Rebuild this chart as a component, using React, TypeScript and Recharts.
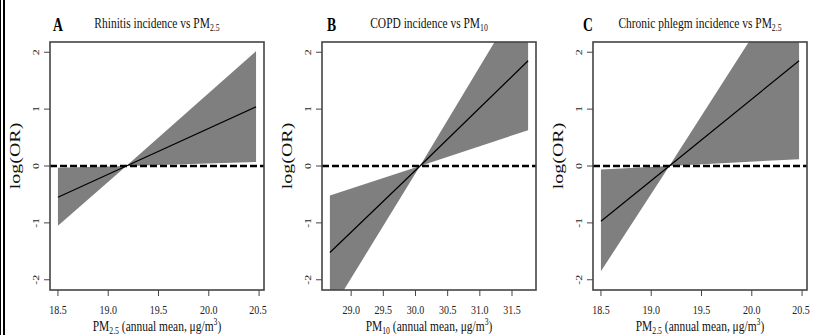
import React from 'react';
import { ComposedChart, Area, Line, XAxis, YAxis, ReferenceLine } from 'recharts';

// log(OR) curves with their confidence bands
const rhinitisX = [18.5, 19.18, 20.47];
const rhinitisFit = [-0.55, 0, 1.04];
const rhinitisLower = [-1.05, 0, 0.07];
const rhinitisUpper = [-0.03, 0, 2.02];

const copdX = [28.67, 30.07, 31.75];
const copdFit = [-1.52, 0, 1.85];
const copdLower = [-2.58, 0, 0.63];
const copdUpper = [-0.52, 0, 3.16];

const phlegmX = [18.5, 19.18, 20.47];
const phlegmFit = [-0.97, 0, 1.85];
const phlegmLower = [-1.85, 0, 0.12];
const phlegmUpper = [-0.06, 0, 3.56];

const pm25Ticks = [18.5, 19.0, 19.5, 20.0, 20.5];
const pm10Ticks = [29.0, 29.5, 30.0, 30.5, 31.0, 31.5];
const logOrTicks = [-2, -1, 0, 1, 2];

const SERIF = '"Liberation Serif", "DejaVu Serif", serif';
const SQUEEZE = 0.74;
const Y_DOMAIN: [number, number] = [-2.18, 2.18];
const PANEL_W = 272;
const PANEL_H = 335;
const MARGIN = { top: 42, right: 8, bottom: 25, left: 30 };
const Y_AXIS_W = 20;
const X_AXIS_H = 20;

const build = (xs: number[], fit: number[], lo: number[], hi: number[]) =>
  xs.map((x, i) => ({ x, fit: fit[i], band: [lo[i], hi[i]] }));

const XTick = ({ x, y, payload }: any) => (
  <text
    transform={`translate(${x},${y + 16}) scale(${SQUEEZE},1)`}
    textAnchor="middle"
    fontFamily={SERIF}
    fontSize={13.5}
    fill="#222"
  >
    {Number(payload.value).toFixed(1)}
  </text>
);

const YTick = ({ x, y, payload }: any) => (
  <text
    transform={`translate(${x - 5},${y}) rotate(-90) scale(1,${SQUEEZE})`}
    textAnchor="middle"
    fontFamily={SERIF}
    fontSize={12}
    fill="#222"
  >
    {payload.value}
  </text>
);

interface PanelProps {
  left: number;
  letter: string;
  letterX: number;
  title: string;
  titleSub: string;
  xLabel: string;
  xSub: string;
  data: any[];
  domain: [number, number];
  ticks: number[];
}

const Panel = ({ left, letter, letterX, title, titleSub, xLabel, xSub, data, domain, ticks }: PanelProps) => {
  // plot frame (R's box())
  const boxX = MARGIN.left + Y_AXIS_W;
  const boxW = PANEL_W - boxX - MARGIN.right;
  const boxH = PANEL_H - MARGIN.top - MARGIN.bottom - X_AXIS_H;
  return (
    <div style={{ position: 'absolute', left, top: 0, width: PANEL_W, height: PANEL_H }}>
      <ComposedChart width={PANEL_W} height={PANEL_H} data={data} margin={MARGIN}>
        <Area
          type="linear"
          dataKey="band"
          fill="#7f7f7f"
          fillOpacity={1}
          stroke="none"
          isAnimationActive={false}
        />
        <Line
          type="linear"
          dataKey="fit"
          stroke="#000"
          strokeWidth={1.2}
          dot={false}
          isAnimationActive={false}
        />
        <ReferenceLine y={0} stroke="#000" strokeWidth={2.5} strokeDasharray="7 3" />
        <XAxis
          type="number"
          dataKey="x"
          domain={domain}
          ticks={ticks}
          allowDataOverflow
          height={X_AXIS_H}
          tickSize={6}
          tickLine={{ stroke: '#444' }}
          axisLine={false}
          tick={<XTick />}
        />
        <YAxis
          type="number"
          domain={Y_DOMAIN}
          ticks={logOrTicks}
          allowDataOverflow
          width={Y_AXIS_W}
          tickSize={6}
          tickMargin={0}
          tickLine={{ stroke: '#444' }}
          axisLine={false}
          tick={<YTick />}
        />
      </ComposedChart>
      <svg
        width={PANEL_W}
        height={PANEL_H}
        style={{ position: 'absolute', left: 0, top: 0, pointerEvents: 'none' }}
      >
        <rect
          x={boxX}
          y={MARGIN.top}
          width={boxW}
          height={boxH}
          fill="none"
          stroke="#444"
          strokeWidth={1.6}
        />
        <text
          transform={`translate(${letterX},31) scale(0.76,1)`}
          fontFamily={SERIF}
          fontSize={18}
          fontWeight="bold"
        >
          {letter}
        </text>
        <text
          transform={`translate(157,28) scale(${SQUEEZE},1)`}
          textAnchor="middle"
          fontFamily={SERIF}
          fontSize={15.5}
          fill="#111"
        >
          {title}
          <tspan fontSize={10.5} dy={3}>{titleSub}</tspan>
        </text>
        <text
          transform={`translate(20,156) rotate(-90) scale(1,${SQUEEZE})`}
          textAnchor="middle"
          fontFamily={SERIF}
          fontSize={20}
          fill="#111"
        >
          log(OR)
        </text>
        <text
          transform={`translate(157,331) scale(${SQUEEZE},1)`}
          textAnchor="middle"
          fontFamily={SERIF}
          fontSize={15.5}
          fill="#111"
        >
          {xLabel}
          <tspan fontSize={10.5} dy={3}>{xSub}</tspan>
          <tspan dy={-3}> (annual mean, μg/m</tspan>
          <tspan fontSize={10.5} dy={-6}>3</tspan>
          <tspan dy={6}>)</tspan>
        </text>
      </svg>
    </div>
  );
};

export default function App() {
  return (
    <div
      style={{
        position: 'absolute',
        left: 0,
        top: 0,
        width: 821,
        height: 335,
        background: '#fff',
        overflow: 'hidden',
      }}
    >
      <div style={{ position: 'absolute', left: 0, top: 0, width: 1, height: 335, background: '#000' }} />
      <div style={{ position: 'absolute', left: 3, top: 0, width: 2, height: 335, background: '#000' }} />
      <Panel
        left={0}
        letter="A"
        letterX={53}
        title="Rhinitis incidence vs PM"
        titleSub="2.5"
        xLabel="PM"
        xSub="2.5"
        data={build(rhinitisX, rhinitisFit, rhinitisLower, rhinitisUpper)}
        domain={[18.421, 20.549]}
        ticks={pm25Ticks}
      />
      <Panel
        left={272}
        letter="B"
        letterX={55}
        title="COPD incidence vs PM"
        titleSub="10"
        xLabel="PM"
        xSub="10"
        data={build(copdX, copdFit, copdLower, copdUpper)}
        domain={[28.547, 31.873]}
        ticks={pm10Ticks}
      />
      <Panel
        left={543}
        letter="C"
        letterX={40}
        title="Chronic phlegm incidence vs PM"
        titleSub="2.5"
        xLabel="PM"
        xSub="2.5"
        data={build(phlegmX, phlegmFit, phlegmLower, phlegmUpper)}
        domain={[18.421, 20.549]}
        ticks={pm25Ticks}
      />
    </div>
  );
}
